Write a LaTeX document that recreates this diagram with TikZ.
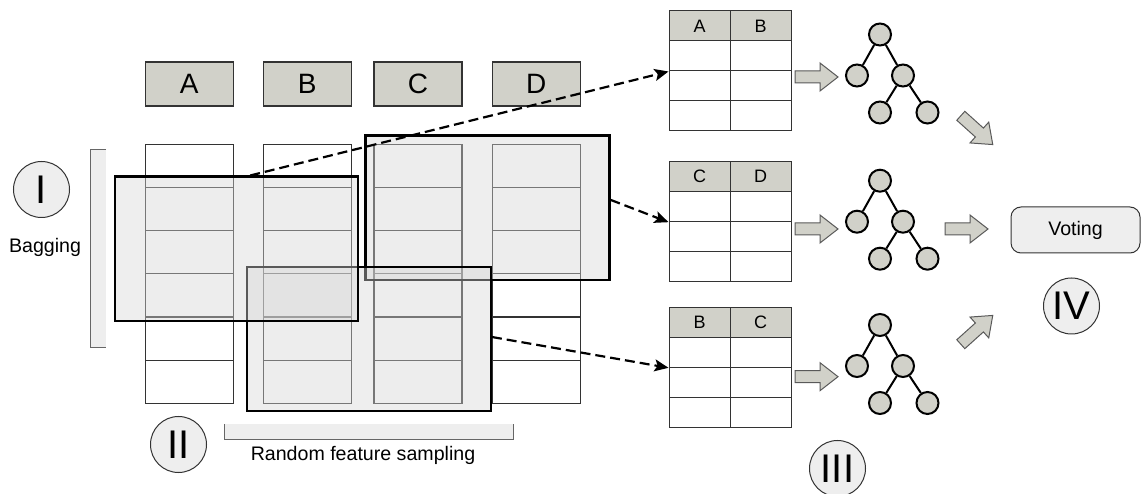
\documentclass[tikz,border=0pt]{standalone}
\usepackage{fontspec}
\setmainfont{Liberation Sans}
\usetikzlibrary{arrows.meta,calc}
\definecolor{hdrgray}{RGB}{209,209,201}
\definecolor{lightgray}{RGB}{238,238,238}
\definecolor{linegray}{RGB}{51,51,51}
\definecolor{boxfill}{RGB}{214,214,214}
\begin{document}
\begin{tikzpicture}[x=1pt,y=-1pt,
 hdr/.style={draw=linegray, line width=1.3pt, fill=hdrgray, minimum width=88pt, minimum height=44pt, inner sep=0pt, font=\fontsize{28}{30}\selectfont},
 cell/.style={draw=linegray, line width=1.2pt, fill=white, minimum width=88pt, minimum height=43.17pt, inner sep=0pt},
 selbox/.style={draw=black, line width=2.4pt, fill=boxfill, fill opacity=0.42, inner sep=0pt},
 tcell/.style={draw=linegray, line width=1pt, fill=white, minimum width=61pt, minimum height=30pt, inner sep=0pt},
 thdr/.style={tcell, fill=hdrgray, font=\fontsize{18}{20}\selectfont},
 tnode/.style={circle, draw=black, line width=2pt, fill=hdrgray, minimum size=22pt, inner sep=0pt},
 tedge/.style={draw=black, line width=2pt},
 roman/.style={circle, draw=linegray, line width=1pt, fill=lightgray, minimum size=56pt, inner sep=0pt, font=\fontsize{40}{40}\selectfont},
 lbl/.style={font=\fontsize{19.6}{21}\selectfont, inner sep=0pt},
 dasharrow/.style={draw=black, line width=2.2pt, dash pattern=on 10pt off 5pt, -{Stealth[length=14pt,width=12pt,inset=3pt]}},
 barrow/.pic={\draw[draw=black!65, line width=1pt, fill=hdrgray, line join=miter] (0,-6)--(25,-6)--(25,-14)--(43,0)--(25,14)--(25,6)--(0,6)--cycle;}
]
\useasboundingbox (0,0) rectangle (1144,494);

% brackets
\fill[lightgray] (90.7,150) rectangle (106,348);
\draw[draw=black!60, line width=1pt] (106,150) -- (90.7,150) -- (90.7,348) -- (106,348);
\fill[lightgray] (224,424) rectangle (513,439);
\draw[draw=black!60, line width=1pt] (224,424) -- (224,439) -- (513,439) -- (513,424);

% data columns
\foreach \c/\x in {A/189.3,B/307.2,C/418,D/536.2} {
  \node[hdr] (h\c) at (\x,84) {\c};
  \foreach \r in {1,...,6}
    \node[cell] (c\c\r) at (\x,{144.3+43.17*(\r-0.5)}) {};
}

% selection boxes
\node[selbox, minimum width=244pt, minimum height=144.3pt] (b2) at (487.3,207.85) {};
\node[selbox, minimum width=243.7pt, minimum height=144pt] (b3) at (368.85,339) {};
\node[selbox, minimum width=243pt, minimum height=144.3pt] (b1) at (236.2,248.85) {};

% small tables
\foreach \t/\ty/\a/\b in {1/11/A/B, 2/161.7/C/D, 3/307.3/B/C} {
  \node[thdr] (t\t-h-a) at (699.5,{\ty+15}) {\a};
  \node[thdr] (t\t-h-b) at (760.5,{\ty+15}) {\b};
  \foreach \r in {1,2,3} {
    \node[tcell] (t\t-r\r-a) at (699.5,{\ty+15+30*\r}) {};
    \node[tcell] (t\t-r\r-b) at (760.5,{\ty+15+30*\r}) {};
  }
}

% dashed arrows
\draw[dasharrow] ([xshift=14pt]b1.north) -- (t1-r1-a.south west);
\draw[dasharrow] ([yshift=8pt]b2.east) -- (t2-r1-a.south west);
\draw[dasharrow] ([yshift=2pt]b3.east) -- (t3-r1-a.south west);

% trees
\foreach \k/\ry in {1/34.5,2/180.7,3/325} {
  \node[tnode] (tr\k) at (880,\ry) {};
  \node[tnode] (tl\k) at (857,{\ry+41}) {};
  \node[tnode] (tm\k) at (903,{\ry+41}) {};
  \node[tnode] (tml\k) at (880,{\ry+78}) {};
  \node[tnode] (tmr\k) at (927.5,{\ry+78}) {};
  \draw[tedge] (tr\k) -- (tl\k);
  \draw[tedge] (tr\k) -- (tm\k);
  \draw[tedge] (tm\k) -- (tml\k);
  \draw[tedge] (tm\k) -- (tmr\k);
}

% block arrows
\pic at (795,77) {barrow};
\pic at (795,229) {barrow};
\pic at (795,376.7) {barrow};
\pic at (945,229) {barrow};
\pic[rotate=-42] at (960.8,115.8) {barrow};
\pic[rotate=42] at (960.8,344.2) {barrow};

% voting
\node[draw=linegray, line width=1pt, fill=lightgray, rounded corners=10pt, minimum width=129pt, minimum height=46pt, font=\fontsize{19.6}{21}\selectfont] (vote) at (1075.5,230) {Voting};

% roman numerals
\node[roman] (n1) at (41.5,189.5) {I};
\node[roman] (n2) at (178.5,444.5) {II};
\node[roman] (n3) at (837.5,468.5) {III};
\node[roman] (n4) at (1071.5,306) {IV};

% labels
\node[lbl] (bag) at (45,247) {Bagging};
\node[lbl] (rfs) at (363,455) {Random feature sampling};
\end{tikzpicture}
\end{document}
